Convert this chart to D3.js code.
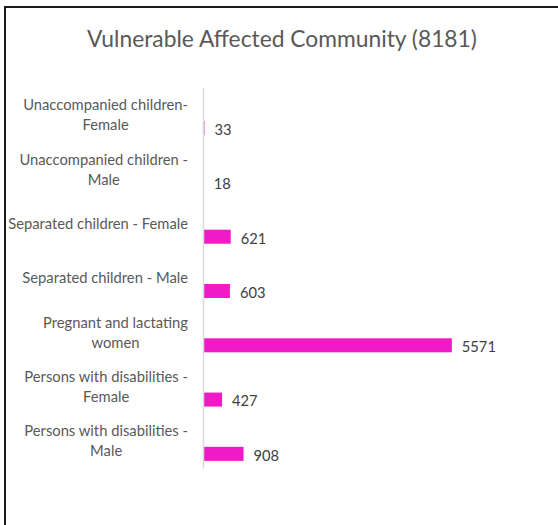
<!DOCTYPE html>
<html>
<head>
<meta charset="utf-8">
<script src="https://cdn.jsdelivr.net/npm/d3@7/dist/d3.min.js"></script>
<style>
  html, body { margin: 0; padding: 0; background: #fff; }
  svg { display: block; font-family: Lato, "Open Sans", sans-serif; }
</style>
</head>
<body>
<svg id="chart" width="558" height="525"></svg>
<script>
// Category labels (lines split where the axis wraps them)
const categories = [
  "Unaccompanied children-\nFemale",
  "Unaccompanied children -\nMale",
  "Separated children - Female",
  "Separated children - Male",
  "Pregnant and lactating\nwomen",
  "Persons with disabilities -\nFemale",
  "Persons with disabilities -\nMale"
];
const values = [33, 18, 621, 603, 5571, 427, 908];
const chartTitle = "Vulnerable Affected Community (8181)";

const svg = d3.select("#chart");

// Frame: left and top edges
svg.append("line").attr("x1", 5).attr("y1", 7).attr("x2", 5).attr("y2", 525)
  .attr("stroke", "#1a1a1a").attr("stroke-width", 2);
svg.append("line").attr("x1", 4).attr("y1", 7).attr("x2", 558).attr("y2", 7)
  .attr("stroke", "#1a1a1a").attr("stroke-width", 2);

svg.append("text")
  .attr("x", 282).attr("y", 47)
  .attr("text-anchor", "middle")
  .attr("fill", "#595959")
  .style("font-size", "22.8px")
  .text(chartTitle);

const x = d3.scaleLinear().domain([0, 6000]).range([203, 471]);
const y = d3.scaleBand().domain(categories).range([88, 468]).padding(0);

const band = y.bandwidth();
const barH = 14;
const barOffset = band / 2 + 6;

// Bars
svg.append("g").selectAll("rect")
  .data(values)
  .join("rect")
  .attr("x", x(0))
  .attr("y", (d, i) => y(categories[i]) + barOffset)
  .attr("width", d => x(d) - x(0))
  .attr("height", barH)
  .attr("fill", "#F01BC6");

// Value labels
svg.append("g").selectAll("text")
  .data(values)
  .join("text")
  .attr("x", d => x(d) + 10)
  .attr("y", (d, i) => y(categories[i]) + barOffset + barH / 2 + 1.5)
  .attr("dy", "0.36em")
  .attr("fill", "#404040")
  .style("font-size", "14.7px")
  .text(d => d);

// Vertical category axis
const axis = d3.axisLeft(y).tickSize(0).tickFormat("");
const axisG = svg.append("g").attr("transform", `translate(${x(0)},0)`).call(axis);
axisG.select(".domain").attr("stroke", "#d9d9d9").attr("stroke-width", 1.5);

// Category labels: wrapped lines centred on one another, block right-aligned
const labelRight = 188;
const lineH = 20;
const labelsG = svg.append("g");
categories.forEach(c => {
  const lines = c.split("\n");
  const cy = y(c) + band / 2;
  const t = labelsG.append("text")
    .attr("fill", "#595959")
    .style("font-size", "14.75px");
  const spans = lines.map((ln, k) =>
    t.append("tspan").text(ln)
      .attr("y", cy + (k - (lines.length - 1) / 2) * lineH)
      .attr("dy", "0.36em"));
  let maxW = 0;
  spans.forEach(s => { maxW = Math.max(maxW, s.node().getComputedTextLength()); });
  const cx = labelRight - maxW / 2;
  spans.forEach(s => s.attr("x", cx).attr("text-anchor", "middle"));
});
</script>
</body>
</html>
